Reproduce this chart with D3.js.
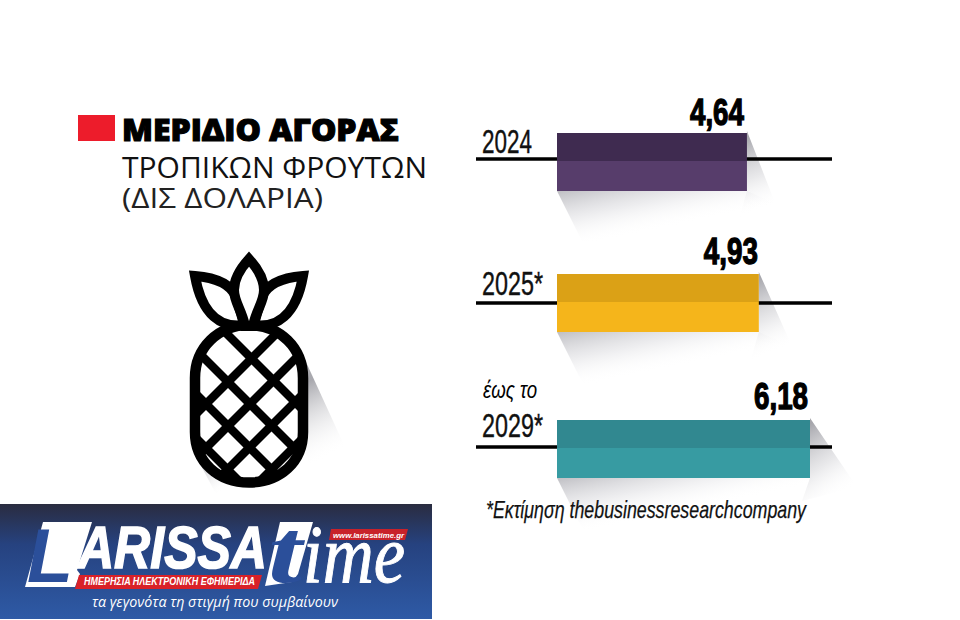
<!DOCTYPE html>
<html><head><meta charset="utf-8">
<script src="https://cdn.jsdelivr.net/npm/d3@7"></script>
<style>html,body{margin:0;padding:0;background:#fff}svg{display:block}</style>
</head><body><svg id="c" width="960" height="620"></svg>
<script>
const years = ["2024","2025*","2029*"];
const values = [4.64,4.93,6.18];
const valueLabels = ["4,64","4,93","6,18"];
const barTop = ["#3f2b50","#dba116","#318890"];
const barBottom = ["#573d6b","#f5b51b","#379ba2"];
const titleLines = ["ΜΕΡΙΔΙΟ ΑΓΟΡΑΣ","ΤΡΟΠΙΚΩΝ ΦΡΟΥΤΩΝ","(ΔΙΣ ΔΟΛΑΡΙΑ)"];
const prefix = "έως το";
const footnote = "*Εκτίμηση thebusinessresearchcompany";

const svg = d3.select("#c");
const defs = svg.append("defs");
const x = d3.scaleLinear().domain([0,6.18]).range([557,810]);
const y = d3.scalePoint().domain(years).range([159,447]);
const barOffset = [-26,-29,-27], barH = 58, split = 28;
const shadowDx = [29,33,47], shadowDy = [72,72,67];

function grad(id,x1,y1,x2,y2,stops){
  const g = defs.append("linearGradient").attr("id",id).attr("gradientUnits","userSpaceOnUse")
    .attr("x1",x1).attr("y1",y1).attr("x2",x2).attr("y2",y2);
  stops.forEach(s=>g.append("stop").attr("offset",s[0]).attr("stop-color",s[1]).attr("stop-opacity",s[2]));
}
// soft cast shadows behind the bars
years.forEach((yr,i)=>{
  const t = y(yr)+barOffset[i], r = x(values[i]), l = x(0), b = t+barH, dx = shadowDx[i], dy = shadowDy[i];
  grad("sh"+i,l,b,l+12,b+57,[[0,"#b8b8bd",0.9],[0.5,"#dadade",0.5],[1,"#ffffff",0]]);
  grad("sr"+i,r,t+4,r+dx*0.9,t+dy,[[0,"#a2a2a8",0.95],[0.55,"#d2d2d6",0.5],[1,"#ffffff",0]]);
  svg.append("path").attr("d",d3.line()([[l,b],[l+27,b+54],[r+32,b+14],[r,b]])).attr("fill",`url(#sh${i})`);
  svg.append("path").attr("d",d3.line()([[r,t-2],[r+dx,t+dy],[r-8,t+dy+14],[r,b]])).attr("fill",`url(#sr${i})`);
});
// baselines
svg.selectAll("line.base").data(years).join("line").attr("class","base")
  .attr("x1",476).attr("x2",832).attr("y1",d=>y(d)).attr("y2",d=>y(d))
  .attr("stroke","#000").attr("stroke-width",3.4);
// bars
svg.selectAll("rect.top").data(years).join("rect").attr("class","top")
  .attr("x",x(0)).attr("y",(d,i)=>y(d)+barOffset[i]).attr("width",(d,i)=>x(values[i])-x(0)).attr("height",split)
  .attr("fill",(d,i)=>barTop[i]);
svg.selectAll("rect.bot").data(years).join("rect").attr("class","bot")
  .attr("x",x(0)).attr("y",(d,i)=>y(d)+barOffset[i]+split).attr("width",(d,i)=>x(values[i])-x(0)).attr("height",barH-split)
  .attr("fill",(d,i)=>barBottom[i]);
// value labels
const cond = "'Liberation Sans Narrow','Liberation Sans',sans-serif";
const labelGap = [8,10,11], labelInset = [3,1,2];
svg.selectAll("text.val").data(valueLabels).join("text").attr("class","val")
  .attr("x",(d,i)=>x(values[i])-labelInset[i]).attr("y",(d,i)=>y(years[i])+barOffset[i]-labelGap[i])
  .attr("text-anchor","end").attr("font-family",cond).attr("font-weight",700).attr("font-size",36)
  .attr("stroke","#000").attr("stroke-width",1.3)
  .attr("textLength",54).attr("lengthAdjust","spacingAndGlyphs").text(d=>d);
// year labels
const yearBase = [153,295,437];
const yearLen = [50,61,61];
svg.selectAll("text.yr").data(years).join("text").attr("class","yr")
  .attr("x",482).attr("y",(d,i)=>yearBase[i]).attr("font-family",cond).attr("font-size",33)
  .attr("stroke","#111").attr("stroke-width",0.4)
  .attr("textLength",(d,i)=>yearLen[i]).attr("lengthAdjust","spacingAndGlyphs").attr("fill","#111").text(d=>d);
svg.append("text").attr("x",483).attr("y",398).attr("font-family",cond).attr("font-style","italic").attr("font-size",24)
  .attr("textLength",54).attr("lengthAdjust","spacingAndGlyphs").text(prefix);
svg.append("text").attr("x",486).attr("y",518).attr("font-family",cond).attr("font-style","italic").attr("font-size",24)
  .attr("stroke","#111").attr("stroke-width",0.25)
  .attr("textLength",320).attr("lengthAdjust","spacingAndGlyphs").attr("fill","#111").text(footnote);
// title
svg.append("rect").attr("x",78).attr("y",115).attr("width",37).attr("height",26).attr("fill","#ed1c2b");
svg.append("text").attr("x",122).attr("y",141).attr("font-family","'Open Sans','DejaVu Sans',sans-serif").attr("font-weight",800)
  .attr("font-size",30).attr("stroke","#000").attr("stroke-width",1.1)
  .attr("textLength",277).attr("lengthAdjust","spacingAndGlyphs").text(titleLines[0]);
svg.append("text").attr("x",122).attr("y",178).attr("font-family","'Open Sans','DejaVu Sans',sans-serif")
  .attr("font-size",30).attr("textLength",305).attr("lengthAdjust","spacingAndGlyphs").attr("fill","#111").text(titleLines[1]);
svg.append("text").attr("x",122).attr("y",208).attr("font-family","'Open Sans','DejaVu Sans',sans-serif")
  .attr("font-size",28).attr("textLength",201).attr("lengthAdjust","spacingAndGlyphs").attr("fill","#222").text(titleLines[2]);

// pineapple
const pine = svg.append("g");
grad("ps",302,385,338,452,[[0,"#a4a4aa",0.95],[1,"#ffffff",0]]);
pine.append("path").attr("d","M306,362L350,458L312,476L304,445Z").attr("fill","url(#ps)");
grad("ps2",203,466,222,492,[[0,"#bcbcc2",0.8],[1,"#ffffff",0]]);
pine.append("path").attr("d","M198,460L216,494L232,486Z").attr("fill","url(#ps2)");
const body = "M195,378C195,348 218,325 249,325C280,325 303,348 303,378L303,432C303,462 280,482.5 249,482.5C218,482.5 195,462 195,432Z";
defs.append("clipPath").attr("id","pc").append("path").attr("d",body);
pine.append("path").attr("d",body).attr("fill","#fff");
const latt = pine.append("g").attr("clip-path","url(#pc)").attr("stroke","#000").attr("stroke-width",8.5).attr("fill","none");
[107,154,198,242].forEach(c=>latt.append("path").attr("d",`M150,${150+c}L350,${350+c}`));
[610,654,697,741].forEach(s=>latt.append("path").attr("d",`M150,${s-150}L350,${s-350}`));
pine.append("path").attr("d",body).attr("fill","none").attr("stroke","#000").attr("stroke-width",10.5);
const leaves = pine.append("g").attr("fill","#fff").attr("stroke","#000").attr("stroke-width",10).attr("stroke-linejoin","miter");
leaves.append("path").attr("d","M195,276C220,278 232,287 236,297C239,307 242,316 244,325C222,328 202,316 195,276Z");
leaves.append("path").attr("d","M303,276C278,278 266,287 262,297C259,307 256,316 254,325C276,328 296,316 303,276Z");
leaves.append("path").attr("d","M249,259C239,270 234,281 234,290C234,302 242,310 245,326L253,326C256,310 264,302 264,290C264,281 259,270 249,259Z");

// banner
grad("bn",0,504,0,619,[[0,"#2a2c40",1],[0.35,"#26427f",1],[1,"#2e5aa6",1]]);
const logo = svg.append("g");
logo.append("rect").attr("x",0).attr("y",504).attr("width",432).attr("height",115).attr("fill","url(#bn)");
logo.append("path").attr("d","M43,522L92,522L77,570L80,574L75,587L25,587Z").attr("fill","#fff");
const bi = "'Liberation Sans',sans-serif";
logo.append("text").attr("x",27).attr("y",582).attr("font-family",bi).attr("font-weight",700).attr("font-style","italic")
  .attr("font-size",76).attr("fill","#2b4f9a").attr("textLength",46).attr("lengthAdjust","spacingAndGlyphs").text("L");
logo.append("text").attr("x",78).attr("y",568).attr("font-family",bi).attr("font-weight",700).attr("font-style","italic")
  .attr("font-size",60).attr("fill","#fff").attr("stroke","#fff").attr("stroke-width",1.6)
  .attr("textLength",189).attr("lengthAdjust","spacingAndGlyphs").text("ARISSA");
logo.append("path").attr("d","M79,575L262,575L258,589L75,589Z").attr("fill","#d92128");
logo.append("text").attr("x",84).attr("y",585).attr("font-family",bi).attr("font-weight",700).attr("font-style","italic")
  .attr("font-size",10.5).attr("fill","#fff").attr("textLength",171).attr("lengthAdjust","spacingAndGlyphs").text("ΗΜΕΡΗΣΙΑ ΗΛΕΚΤΡΟΝΙΚΗ ΕΦΗΜΕΡΙΔΑ");
logo.append("path").attr("d","M331,529L408,529L405,540L329,540Z").attr("fill","#c8222a");
logo.append("text").attr("x",333).attr("y",538).attr("font-family",bi).attr("font-weight",700).attr("font-style","italic")
  .attr("font-size",8).attr("fill","#fff").attr("textLength",71).attr("lengthAdjust","spacingAndGlyphs").text("www.larissatime.gr");
logo.append("path").attr("d","M280,522L313,522L298,574L292,582L265,586Z").attr("fill","#fff");
logo.append("text").attr("x",268).attr("y",582).attr("font-family","'Liberation Serif',serif").attr("font-style","italic").attr("font-weight",700)
  .attr("font-size",92).attr("fill","#2b4f9a").attr("textLength",34).attr("lengthAdjust","spacingAndGlyphs").text("t");
logo.append("text").attr("x",303).attr("y",582).attr("font-family","'Liberation Serif',serif").attr("font-style","italic")
  .attr("font-size",82).attr("fill","#fff").attr("stroke","#fff").attr("stroke-width",1).attr("textLength",102).attr("lengthAdjust","spacingAndGlyphs").text("ime");
logo.append("text").attr("x",92).attr("y",607).attr("font-family","'Open Sans',sans-serif").attr("font-style","italic")
  .attr("font-size",15).attr("fill","#fff").attr("textLength",246).attr("lengthAdjust","spacingAndGlyphs").text("τα γεγονότα τη στιγμή που συμβαίνουν");
</script></body></html>
